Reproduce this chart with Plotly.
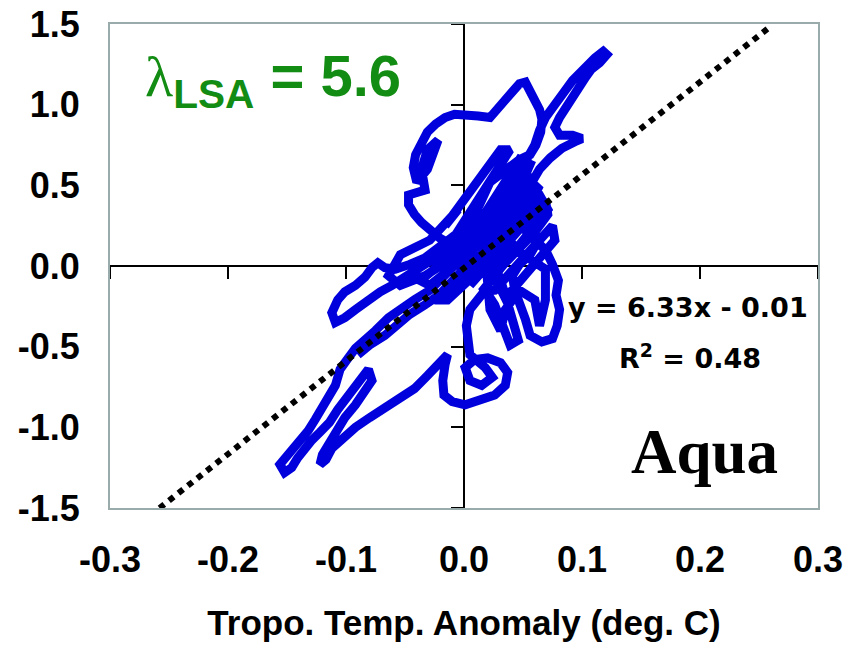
import plotly.graph_objects as go

# ---- data -------------------------------------------------------------
x_ticks = [-0.3, -0.2, -0.1, 0.0, 0.1, 0.2, 0.3]
x_tick_labels = ["-0.3", "-0.2", "-0.1", "0.0", "0.1", "0.2", "0.3"]
y_ticks = [-1.5, -1.0, -0.5, 0.0, 0.5, 1.0, 1.5]
y_tick_labels = ["-1.5", "-1.0", "-0.5", "0.0", "0.5", "1.0", "1.5"]

# tropospheric temperature anomaly (deg C), read along the plotted trajectory
temp_anomaly = [
    # spike to upper right
    0.026, 0.035, 0.041, 0.047, 0.053, 0.060, 0.064, 0.069, 0.075, 0.080,
    0.086, 0.092, 0.098, 0.105, 0.111, 0.118, 0.121, 0.115, 0.108, 0.103,
    0.097, 0.090, 0.086, 0.081, 0.077, 0.081, 0.092, 0.100, 0.094, 0.083,
    0.073, 0.064, 0.056, 0.047,
    # centre to right lobe
    0.043, 0.052, 0.060, 0.069, 0.075, 0.080, 0.078, 0.081, 0.079, 0.075,
    0.066, 0.056, 0.052, 0.047, 0.043, 0.041, 0.047, 0.056, 0.063, 0.058,
    0.049, 0.039, 0.031, 0.024, 0.018, 0.012, 0.005,
    # left hump loop
    -0.002, -0.010, -0.020, -0.029, -0.036, -0.042, -0.047, -0.047,
    -0.033, -0.036, -0.031, -0.022, -0.026, -0.031, -0.040,
    -0.043, -0.041, -0.036, -0.031, -0.024, -0.016, -0.008, 0.001, 0.012,
    0.022, 0.029, 0.035, 0.041, 0.047, 0.052, 0.056, 0.060, 0.064, 0.066,
    0.065, 0.061, 0.056, 0.047, 0.039, 0.031, 0.022,
    # dense centre strands
    -0.012, 0.005, 0.022, 0.035, 0.047, 0.056, 0.049, 0.037, 0.026, 0.014,
    0.001, -0.012, -0.020, -0.008, 0.005, 0.020, 0.031, 0.043, 0.054, 0.064,
    0.058, 0.046, 0.035, 0.022, 0.012, 0.022, 0.035, 0.047, 0.060, 0.071,
    0.069,
    # more back-and-forth in the centre
    0.005, 0.064, 0.071, 0.015, 0.026, 0.075, 0.077, 0.035, 0.020, 0.056,
    0.047, -0.002, -0.010, 0.039, 0.031, -0.016,
    # left-middle strands
    -0.005, -0.029, -0.054, -0.064, -0.054, -0.033, -0.016, -0.002,
    0.005, -0.037, -0.029, 0.009, 0.001, -0.025, -0.014, 0.014,
    # centre-lower strands
    0.018, 0.022, 0.031, 0.035, 0.047, 0.060, 0.064, 0.069, 0.069, 0.040,
    # left strands to the bump near zero
    0.005, -0.008, -0.020, -0.033, -0.046, -0.058, -0.067, -0.073, -0.078, -0.084,
    -0.092, -0.101, -0.107, -0.112, -0.109, -0.101, -0.092, -0.081, -0.071, -0.061,
    -0.050, -0.039, -0.029, -0.016, -0.005, 0.005,
    # second strand down-left
    -0.003, -0.016, -0.029, -0.042, -0.054, -0.064, -0.075, -0.084, -0.092, -0.098,
    # lower-left excursions
    -0.105, -0.109, -0.115, -0.120, -0.126, -0.132, -0.139, -0.146, -0.152, -0.156,
    -0.152, -0.146, -0.141, -0.135, -0.129, -0.122, -0.114, -0.107, -0.101, -0.095,
    -0.088, -0.081, -0.078, -0.084, -0.092, -0.101, -0.109, -0.115, -0.120, -0.122,
    -0.117, -0.112, -0.103, -0.092, -0.080, -0.067, -0.054, -0.042, -0.031, -0.020,
    -0.014,
    # lower loop
    -0.016, -0.018, -0.017, -0.010, 0.001, 0.014, 0.026, 0.035, 0.037, 0.031,
    0.020, 0.009, 0.001, 0.005, 0.015, 0.024, 0.018, 0.005, 0.003, 0.002,
    0.005, 0.012,
    # right-lower strands
    0.018, 0.026, 0.031, 0.035, 0.039, 0.046, 0.043, 0.039, 0.035, 0.031,
    0.026, 0.035, 0.043,
    # back down-left
    0.003, -0.008, -0.020, -0.033, -0.046, -0.056, -0.067, -0.080, -0.090,
]

# outgoing flux anomaly, same trajectory
flux_anomaly = [
    # spike to upper right
    0.35, 0.44, 0.50, 0.56, 0.66, 0.75, 0.84, 0.92, 0.98, 1.04,
    1.09, 1.15, 1.20, 1.25, 1.29, 1.33, 1.31, 1.26, 1.22, 1.17,
    1.10, 1.04, 0.98, 0.92, 0.86, 0.81, 0.81, 0.79, 0.77, 0.73,
    0.67, 0.60, 0.50, 0.41,
    # centre to right lobe
    0.32, 0.22, 0.16, 0.10, 0.01, -0.09, -0.18, -0.27, -0.37, -0.45,
    -0.47, -0.43, -0.33, -0.24, -0.15, -0.06, 0.01, 0.07, 0.16, 0.25,
    0.32, 0.35, 0.25, 0.16, 0.10, 0.05, 0.01,
    # left hump loop
    0.07, 0.13, 0.17, 0.22, 0.27, 0.32, 0.38, 0.44,
    0.47, 0.60, 0.72, 0.78, 0.71, 0.60, 0.52,
    0.61, 0.69, 0.77, 0.83, 0.88, 0.92, 0.94, 0.94, 0.93,
    0.92, 0.97, 1.03, 1.08, 1.13, 1.14, 1.09, 1.03, 0.97, 0.91,
    0.83, 0.75, 0.69, 0.66, 0.61, 0.56, 0.52,
    # dense centre strands
    -0.02, 0.13, 0.25, 0.38, 0.48, 0.58, 0.53, 0.44, 0.33, 0.22,
    0.13, 0.05, -0.01, 0.02, 0.09, 0.17, 0.27, 0.38, 0.46, 0.50,
    0.41, 0.33, 0.24, 0.13, 0.02, -0.02, 0.02, 0.11, 0.21, 0.32,
    0.41,
    # more back-and-forth in the centre
    -0.12, 0.44, 0.35, -0.16, -0.15, 0.25, 0.16, -0.20, 0.02, 0.63,
    0.66, 0.10, 0.16, 0.72, 0.72, 0.25,
    # left-middle strands
    0.35, 0.16, 0.07, -0.06, -0.12, -0.06, 0.02, 0.19,
    0.16, -0.09, -0.12, 0.10, -0.01, -0.21, -0.21, -0.02,
    # centre-lower strands
    0.07, -0.27, -0.40, -0.27, -0.15, -0.21, -0.37, -0.21, -0.02, 0.12,
    # left strands to the bump near zero
    0.25, 0.19, 0.13, 0.05, 0.01, -0.02, -0.01, 0.02, -0.01, -0.07,
    -0.12, -0.16, -0.21, -0.29, -0.35, -0.32, -0.27, -0.21, -0.16, -0.12,
    -0.07, -0.02, 0.02, 0.09, 0.16, 0.21,
    # second strand down-left
    0.04, -0.06, -0.15, -0.21, -0.27, -0.32, -0.40, -0.46, -0.51, -0.57,
    # lower-left excursions
    -0.64, -0.74, -0.82, -0.89, -0.95, -1.02, -1.08, -1.14, -1.19, -1.23,
    -1.28, -1.25, -1.19, -1.13, -1.08, -1.03, -0.97, -0.89, -0.83, -0.76,
    -0.69, -0.64, -0.71, -0.78, -0.86, -0.94, -1.03, -1.11, -1.17, -1.23,
    -1.20, -1.13, -1.07, -1.00, -0.94, -0.88, -0.82, -0.76, -0.68, -0.60,
    -0.55,
    # lower loop
    -0.61, -0.71, -0.80, -0.84, -0.86, -0.83, -0.80, -0.74, -0.66, -0.60,
    -0.57, -0.58, -0.63, -0.71, -0.74, -0.69, -0.63, -0.55, -0.46, -0.37,
    -0.27, -0.21,
    # right-lower strands
    -0.15, -0.24, -0.33, -0.43, -0.49, -0.46, -0.37, -0.27, -0.18, -0.09,
    0.01, 0.10, 0.16,
    # back down-left
    -0.06, -0.12, -0.18, -0.24, -0.30, -0.37, -0.43, -0.49, -0.55,
]

trend_x = [-0.258, 0.258]
trend_y = [-1.50, 1.475]

# ---- figure -----------------------------------------------------------
fig = go.Figure()

fig.add_trace(go.Scatter(
    x=temp_anomaly, y=flux_anomaly, mode="lines",
    line=dict(color="#0000dd", width=9), hoverinfo="skip", showlegend=False,
))

fig.add_trace(go.Scatter(
    x=trend_x, y=trend_y, mode="lines", xaxis="x2", yaxis="y2",
    line=dict(color="black", width=6, dash="dot"), hoverinfo="skip", showlegend=False,
))

tick_font = dict(family="Liberation Sans", size=36, color="black", weight="bold")
eq_font = dict(family="DejaVu Sans", size=27, color="black")

fig.update_layout(
    width=854, height=646,
    margin=dict(l=110, r=36, t=24, b=138),
    paper_bgcolor="white", plot_bgcolor="white",
    xaxis=dict(
        range=[-0.3, 0.3], domain=[0, 1], showgrid=False, zeroline=False, automargin=False,
        showline=True, mirror=True, linecolor="#9aabab", linewidth=2,
        ticks="outside", ticklen=19, tickcolor="rgba(0,0,0,0)", ticklabeloverflow="allow",
        tickvals=x_ticks, ticktext=x_tick_labels, tickfont=tick_font,
        title=dict(text="Tropo. Temp. Anomaly (deg. C)", standoff=31,
                   font=dict(family="Liberation Sans", size=35, color="black", weight="bold")),
    ),
    yaxis=dict(
        range=[-1.5, 1.5], domain=[0, 1], showgrid=False, zeroline=False, automargin=False,
        showline=True, mirror=True, linecolor="#9aabab", linewidth=2,
        ticks="outside", ticklen=21, tickcolor="rgba(0,0,0,0)", ticklabeloverflow="allow",
        tickvals=y_ticks, ticktext=y_tick_labels, tickfont=tick_font,
    ),
    xaxis2=dict(
        range=[-0.3, 0.3], overlaying="x", anchor="free", position=0.5, side="bottom",
        showgrid=False, zeroline=False, showline=True, linecolor="black", linewidth=2,
        ticks="outside", ticklen=12, tickwidth=2, tickcolor="black", automargin=False,
        tickvals=x_ticks, showticklabels=False, layer="below traces",
    ),
    yaxis2=dict(
        range=[-1.5, 1.5], overlaying="y", anchor="free", position=0.5, side="left",
        showgrid=False, zeroline=False, showline=True, linecolor="black", linewidth=2,
        ticks="outside", ticklen=12, tickwidth=2, tickcolor="black", automargin=False,
        tickvals=y_ticks, showticklabels=False, layer="below traces",
    ),
    annotations=[
        dict(x=-0.272, y=1.15, xref="x", yref="y", xanchor="left", yanchor="middle",
             showarrow=False,
             text="<span style='font-family:Liberation Serif'>λ</span>"
                  "<sub><b>LSA</b></sub><b> = 5.6</b>",
             font=dict(family="Liberation Sans", size=58, color="#128c12")),
        dict(x=0.293, y=-0.26, xref="x", yref="y", xanchor="right", yanchor="middle",
             showarrow=False, text="<b>y = 6.33x - 0.01</b>", font=eq_font),
        dict(x=0.253, y=-0.56, xref="x", yref="y", xanchor="right", yanchor="middle",
             showarrow=False, text="<b>R<sup>2</sup> = 0.48</b>", font=eq_font),
        dict(x=0.204, y=-1.15, xref="x", yref="y", xanchor="center", yanchor="middle",
             showarrow=False, text="<b>Aqua</b>",
             font=dict(family="Liberation Serif", size=63, color="black")),
    ],
)

# remove the default 8px page margin so the 854x646 figure fills the window exactly
fig.write_html("out.html", config={"displayModeBar": False},
               post_script="document.body.style.margin='0';")
